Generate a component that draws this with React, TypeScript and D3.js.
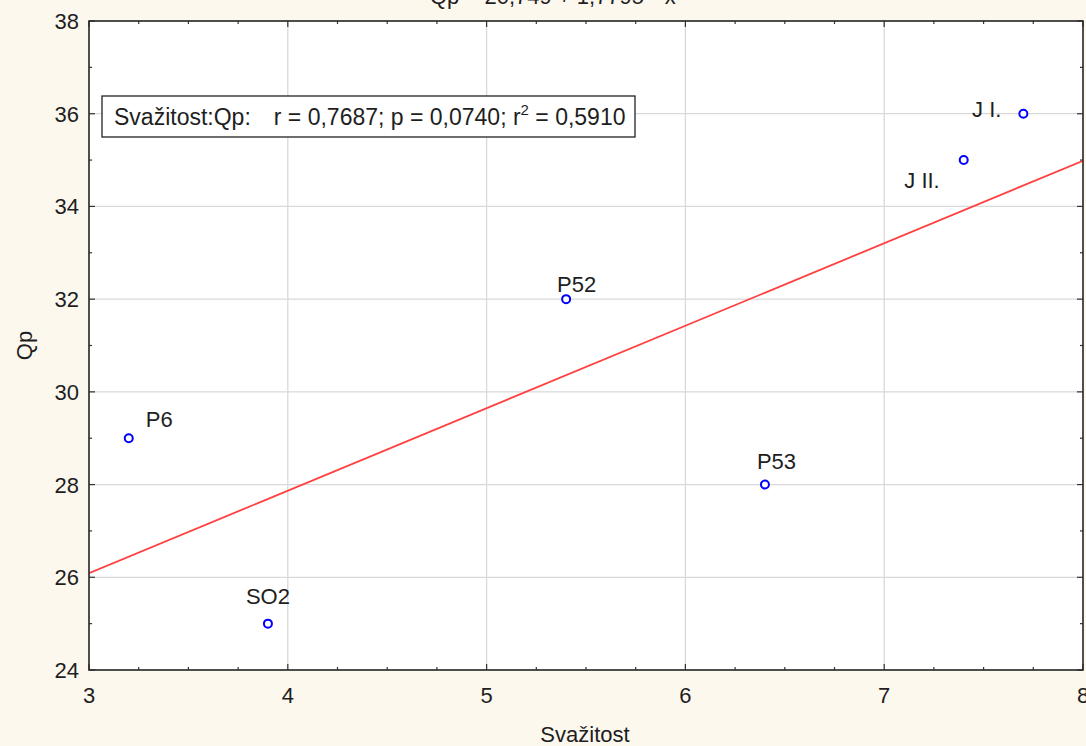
import React from "react";
import * as d3 from "d3";

const names = ["P6", "SO2", "P52", "P53", "J II.", "J I."];
const xValues = [3.2, 3.9, 5.4, 6.4, 7.4, 7.7];
const yValues = [29, 25, 32, 28, 35, 36];
const xTicks = [3, 4, 5, 6, 7, 8];
const yTicks = [24, 26, 28, 30, 32, 34, 36, 38];
const titleText = "Qp = 20,749 + 1,7795 * x";
const legendLead = "Svažitost:Qp:";
const legendStats = "r = 0,7687; p = 0,0740; r";
const legendTail = " = 0,5910";
const xLabel = "Svažitost";
const yLabel = "Qp";

// label placement relative to the point (layout only)
const labelOffsets: Record<string, [number, number, string]> = {
  "P6": [17, -11, "start"],
  "SO2": [0, -20, "middle"],
  "P52": [-9, -7, "start"],
  "P53": [-8, -16, "start"],
  "J II.": [-24, 28, "end"],
  "J I.": [-22, 3, "end"],
};

export default function App() {
  const W = 1086, H = 746;
  const left = 89, right = 1083, top = 21, bottom = 670;
  const x = d3.scaleLinear().domain([3, 8]).range([left, right]);
  const y = d3.scaleLinear().domain([24, 38]).range([bottom, top]);

  const n = xValues.length;
  const mx = d3.mean(xValues)!;
  const my = d3.mean(yValues)!;
  let sxy = 0, sxx = 0;
  for (let i = 0; i < n; i++) {
    sxy += (xValues[i] - mx) * (yValues[i] - my);
    sxx += (xValues[i] - mx) ** 2;
  }
  const b = sxy / sxx;
  const a = my - b * mx;
  const line = d3.line<number>().x((d) => x(d)).y((d) => y(a + b * d));

  const xMinor = d3.range(3, 8.001, 0.25);
  const yMinor = d3.range(24, 38.001, 1);
  const font = "'Liberation Sans', Arial, sans-serif";
  const textColor = "#1e1e1e";

  return (
    <svg width={W} height={H} style={{ position: "absolute", left: 0, top: 0, display: "block" }} fontFamily={font}>
      <defs>
        <clipPath id="plotclip">
          <rect x={left} y={top} width={right - left} height={bottom - top} />
        </clipPath>
      </defs>
      <rect x={0} y={0} width={W} height={H} fill="#fdf8ee" />
      <text x={430} y={4} fontSize={22} fill={textColor}>{titleText}</text>
      <rect x={left} y={top} width={right - left} height={bottom - top} fill="#ffffff" />
      {/* grid */}
      {xTicks.map((t) => (
        <line key={"gx" + t} x1={x(t)} x2={x(t)} y1={top} y2={bottom} stroke="#d9d9d9" strokeWidth={1.3} />
      ))}
      {yTicks.map((t) => (
        <line key={"gy" + t} x1={left} x2={right} y1={y(t)} y2={y(t)} stroke="#d9d9d9" strokeWidth={1.3} />
      ))}
      {/* ticks */}
      {xMinor.map((t) => {
        const major = Math.abs(t - Math.round(t)) < 1e-6;
        const len = major ? 6 : 3;
        return (
          <g key={"mx" + t}>
            <line x1={x(t)} x2={x(t)} y1={bottom} y2={bottom - len} stroke="#333" strokeWidth={1.2} />
            <line x1={x(t)} x2={x(t)} y1={top} y2={top + len} stroke="#333" strokeWidth={1.2} />
          </g>
        );
      })}
      {yMinor.map((t) => {
        const major = Math.round(t) % 2 === 0;
        const len = major ? 6 : 3;
        return (
          <g key={"my" + t}>
            <line x1={left} x2={left + len} y1={y(t)} y2={y(t)} stroke="#333" strokeWidth={1.2} />
            <line x1={right} x2={right - len} y1={y(t)} y2={y(t)} stroke="#333" strokeWidth={1.2} />
          </g>
        );
      })}
      {/* regression line */}
      <path d={line([3, 8]) || ""} fill="none" stroke="#ff4040" strokeWidth={1.8} clipPath="url(#plotclip)" />
      {/* frame */}
      <rect x={left} y={top} width={right - left} height={bottom - top} fill="none" stroke="#2a2a2a" strokeWidth={1.6} />
      {/* tick labels */}
      {xTicks.map((t) => (
        <text key={"tx" + t} x={x(t)} y={bottom + 33} fontSize={22} textAnchor="middle" fill={textColor}>{t}</text>
      ))}
      {yTicks.map((t) => (
        <text key={"ty" + t} x={left - 10} y={y(t) + 8} fontSize={22} textAnchor="end" fill={textColor}>{t}</text>
      ))}
      {/* axis titles */}
      <text x={585} y={742} fontSize={22} textAnchor="middle" fill={textColor}>{xLabel}</text>
      <text transform={`translate(32,${(top + bottom) / 2}) rotate(-90)`} fontSize={22} textAnchor="middle" fill={textColor}>{yLabel}</text>
      {/* legend */}
      <rect x={102} y={96} width={533} height={41} fill="#ffffff" stroke="#222" strokeWidth={1.3} />
      <text x={114} y={125} fontSize={23} fill={textColor}>
        <tspan>{legendLead}</tspan>
        <tspan dx={23}>{legendStats}</tspan>
        <tspan fontSize={15} dy={-10}>2</tspan>
        <tspan dy={10}>{legendTail}</tspan>
      </text>
      {/* points */}
      {names.map((nm, i) => {
        const [dx, dy, anchor] = labelOffsets[nm];
        return (
          <g key={nm}>
            <circle cx={x(xValues[i])} cy={y(yValues[i])} r={4} fill="#ffffff" stroke="#0000ff" strokeWidth={2} />
            <text x={x(xValues[i]) + dx} y={y(yValues[i]) + dy} fontSize={22} textAnchor={anchor} fill={textColor}>{nm}</text>
          </g>
        );
      })}
    </svg>
  );
}
